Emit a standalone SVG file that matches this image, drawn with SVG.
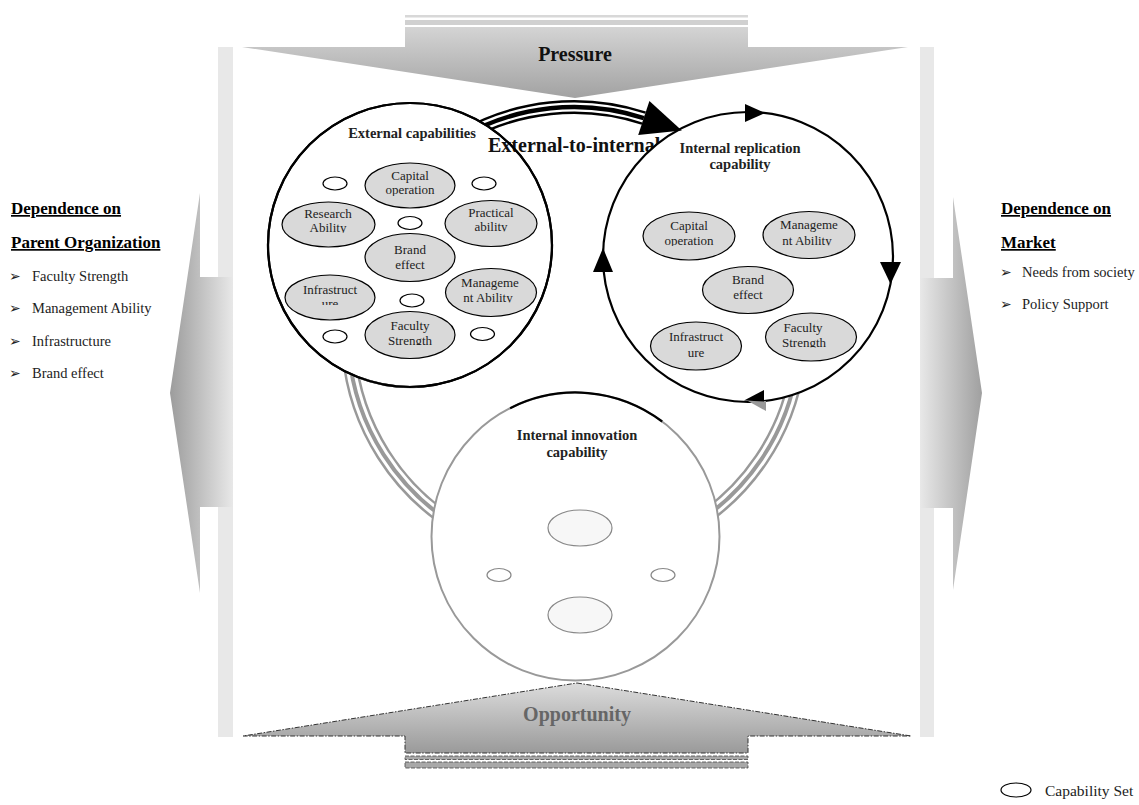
<svg xmlns="http://www.w3.org/2000/svg" width="1139" height="805" viewBox="0 0 1139 805">
<style>
text{font-family:"Liberation Serif","Times New Roman",serif}
.b{font-weight:bold}
.cap{fill:#d9d9d9;stroke:#000;stroke-width:1.2}
.sm{fill:#fff;stroke:#000;stroke-width:1.2}
.lbl{font-size:13px;text-anchor:middle;fill:#222}
.ttl{font-size:14.5px;font-weight:bold;text-anchor:middle;fill:#222}
.head{font-size:17px;font-weight:bold;text-decoration:underline;fill:#000}
.item{font-size:14.5px;fill:#222}
.bul{font-family:"DejaVu Sans",sans-serif;font-size:14px}
.bandg{fill:none;stroke:#999}
.bandk{fill:none;stroke:#000}
.wht{fill:none;stroke:#fff}
.big{fill:#fff;stroke:#000;stroke-width:2.2}
</style>
<defs>
<linearGradient id="gL" gradientUnits="userSpaceOnUse" x1="170" y1="0" x2="233" y2="0"><stop offset="0" stop-color="#9c9c9c"/><stop offset="1" stop-color="#e8e8e8"/></linearGradient>
<linearGradient id="gR" gradientUnits="userSpaceOnUse" x1="920" y1="0" x2="982" y2="0"><stop offset="0" stop-color="#e8e8e8"/><stop offset="1" stop-color="#a0a0a0"/></linearGradient>
<linearGradient id="gP" gradientUnits="userSpaceOnUse" x1="0" y1="27" x2="0" y2="98"><stop offset="0" stop-color="#d4d4d4"/><stop offset="1" stop-color="#a2a2a2"/></linearGradient>
<linearGradient id="gO" gradientUnits="userSpaceOnUse" x1="0" y1="683" x2="0" y2="753"><stop offset="0" stop-color="#dcdcdc"/><stop offset="1" stop-color="#9a9a9a"/></linearGradient>
<clipPath id="c1"><rect x="350" y="160" width="120" height="36"/></clipPath>
<clipPath id="c2"><rect x="270" y="200" width="120" height="33"/></clipPath>
<clipPath id="c3"><rect x="430" y="200" width="120" height="31.5"/></clipPath>
<clipPath id="c5"><rect x="270" y="280" width="120" height="25"/></clipPath>
<clipPath id="c6"><rect x="430" y="270" width="120" height="32.5"/></clipPath>
<clipPath id="c7"><rect x="350" y="315" width="120" height="30"/></clipPath>
<clipPath id="r1"><rect x="630" y="210" width="120" height="36"/></clipPath>
<clipPath id="r2"><rect x="750" y="210" width="120" height="35.5"/></clipPath>
<clipPath id="r5"><rect x="750" y="315" width="120" height="32.5"/></clipPath>
</defs>

<g id="frame">
<rect x="218" y="47" width="15" height="690" fill="#e8e8e8"/>
<rect x="920" y="47" width="14" height="690" fill="#e8e8e8"/>
</g>

<g id="dependence-parent">
<polygon points="233,277 200,277 200,193 170,393 200,593 200,507 233,507" fill="url(#gL)"/>
<text class="head" x="11" y="214">Dependence on</text>
<text class="head" x="11" y="248">Parent Organization</text>
<text class="item" x="9" y="281"><tspan class="bul">➢</tspan><tspan x="32">Faculty Strength</tspan></text>
<text class="item" x="9" y="313"><tspan class="bul">➢</tspan><tspan x="32">Management Ability</tspan></text>
<text class="item" x="9" y="346"><tspan class="bul">➢</tspan><tspan x="32">Infrastructure</tspan></text>
<text class="item" x="9" y="378"><tspan class="bul">➢</tspan><tspan x="32">Brand effect</tspan></text>
</g>

<g id="dependence-market">
<polygon points="920,278 953,278 953,197 982,393 953,590 953,508 920,508" fill="url(#gR)"/>
<text class="head" x="1001" y="214">Dependence on</text>
<text class="head" x="1001" y="248">Market</text>
<text class="item" x="1000" y="277"><tspan class="bul">➢</tspan><tspan x="1022">Needs from society</tspan></text>
<text class="item" x="1000" y="309"><tspan class="bul">➢</tspan><tspan x="1022">Policy Support</tspan></text>
</g>

<g id="pressure">
<rect x="405" y="15" width="343" height="2.5" fill="#d8d8d8"/>
<rect x="405" y="20" width="343" height="5" fill="#d0d0d0"/>
<polygon points="405,27 748,27 748,47 908,47 575,98 242,47 405,47" fill="url(#gP)"/>
<text class="b" x="575" y="61" font-size="20" text-anchor="middle" fill="#111">Pressure</text>
</g>

<g id="opportunity">
<polygon points="577,683 911,736 748,736 748,753 405,753 405,736 243,736" fill="url(#gO)" stroke="#333" stroke-width="1" stroke-dasharray="5 1.5 1.5 1.5"/>
<rect x="405" y="756" width="343" height="3.5" fill="#a8a8a8" stroke="#444" stroke-width="0.8" stroke-dasharray="4 1.5"/>
<rect x="405" y="762" width="343" height="6" fill="#a8a8a8" stroke="#444" stroke-width="0.8" stroke-dasharray="4 1.5"/>
<text class="b" x="577" y="721" font-size="20" text-anchor="middle" fill="#666">Opportunity</text>
</g>

<g id="connectors">
<path class="bandg" stroke-width="15" d="M348.9 352.7 A226 226 0 0 0 461 528.7"/>
<path class="wht" stroke-width="10" d="M348.9 352.7 A226 226 0 0 0 461 528.7"/>
<path class="bandg" stroke-width="4" d="M348.9 352.7 A226 226 0 0 0 461 528.7"/>
<path class="bandg" stroke-width="15" d="M797.8 364.5 A226 226 0 0 1 687 528.7"/>
<path class="wht" stroke-width="10" d="M797.8 364.5 A226 226 0 0 1 687 528.7"/>
<path class="bandg" stroke-width="4" d="M797.8 364.5 A226 226 0 0 1 687 528.7"/>
<path class="bandk" stroke-width="14" d="M461 137.3 A226 226 0 0 1 643.8 118.1"/>
<path class="wht" stroke-width="9" d="M461 137.3 A226 226 0 0 1 643.8 118.1"/>
<path class="bandk" stroke-width="4.5" d="M461 137.3 A226 226 0 0 1 643.8 118.1"/>
</g>

<g id="external-capabilities">
<circle class="big" cx="410" cy="245" r="142"/>
<path d="M417.4 386.8 A142 142 0 0 1 361.4 378.4" fill="none" stroke="#999" stroke-width="2.6"/>
<text class="ttl" x="412" y="138">External capabilities</text>
<ellipse class="sm" cx="335" cy="183.5" rx="12" ry="6.5"/>
<ellipse class="sm" cx="484" cy="183.5" rx="12" ry="6.5"/>
<ellipse class="sm" cx="410" cy="223" rx="12" ry="6.5"/>
<ellipse class="sm" cx="412" cy="300.5" rx="12" ry="6.5"/>
<ellipse class="sm" cx="335" cy="336.5" rx="12" ry="6.5"/>
<ellipse class="sm" cx="482.5" cy="334" rx="12" ry="6.5"/>
<g id="ext-capital">
<ellipse class="cap" cx="410" cy="185.5" rx="45" ry="22.5"/>
<text class="lbl" clip-path="url(#c1)"><tspan x="410" y="180">Capital</tspan><tspan x="410" y="194">operation</tspan></text>
</g>
<g id="ext-research">
<ellipse class="cap" cx="328.5" cy="224.5" rx="46.5" ry="22.5"/>
<text class="lbl" clip-path="url(#c2)"><tspan x="328" y="218">Research</tspan><tspan x="328" y="232">Ability</tspan></text>
</g>
<g id="ext-practical">
<ellipse class="cap" cx="491" cy="223.5" rx="46" ry="23"/>
<text class="lbl" clip-path="url(#c3)"><tspan x="491" y="216.5">Practical</tspan><tspan x="491" y="230.5">ability</tspan></text>
</g>
<g id="ext-brand">
<ellipse class="cap" cx="410" cy="257.5" rx="45" ry="24"/>
<text class="lbl"><tspan x="410" y="254">Brand</tspan><tspan x="410" y="268.5">effect</tspan></text>
</g>
<g id="ext-infra">
<ellipse class="cap" cx="330" cy="297.5" rx="45" ry="22.5"/>
<text class="lbl" clip-path="url(#c5)"><tspan x="330" y="294">Infrastruct</tspan><tspan x="330" y="308">ure</tspan></text>
</g>
<g id="ext-management">
<ellipse class="cap" cx="491" cy="292.5" rx="45.5" ry="24"/>
<text class="lbl" clip-path="url(#c6)"><tspan x="490" y="287">Manageme</tspan><tspan x="488" y="302">nt Ability</tspan></text>
</g>
<g id="ext-faculty">
<ellipse class="cap" cx="410" cy="335" rx="45" ry="23.5"/>
<text class="lbl" clip-path="url(#c7)"><tspan x="410" y="330">Faculty</tspan><tspan x="410" y="345">Strength</tspan></text>
</g>
</g>

<g id="ext-to-int-label">
<text class="b" x="488" y="152" font-size="20" fill="#111">External-to-internal</text>
<circle cx="410" cy="245" r="142" fill="none" stroke="#000" stroke-width="2.2"/>
</g>

<g id="internal-replication">
<circle class="big" cx="748" cy="257" r="145"/>
<polygon points="745,104 745,122 765,113" fill="#000"/>
<polygon points="880,262 901,262 890.5,284" fill="#000"/>
<polygon points="593,272 613,272 603,248" fill="#000"/>
<polygon points="748,401 766,401 766,411" fill="#999"/>
<polygon points="744,400.5 764,390 764,401.5" fill="#000"/>
<text class="ttl"><tspan x="740" y="153">Internal replication</tspan><tspan x="740" y="169">capability</tspan></text>
<g id="rep-capital">
<ellipse class="cap" cx="689" cy="236" rx="46" ry="24"/>
<text class="lbl" clip-path="url(#r1)"><tspan x="689" y="230">Capital</tspan><tspan x="689" y="245">operation</tspan></text>
</g>
<g id="rep-management">
<ellipse class="cap" cx="809" cy="235" rx="46" ry="23.5"/>
<text class="lbl" clip-path="url(#r2)"><tspan x="809" y="229">Manageme</tspan><tspan x="807" y="245">nt Ability</tspan></text>
</g>
<g id="rep-brand">
<ellipse class="cap" cx="748" cy="290" rx="45.5" ry="23.5"/>
<text class="lbl"><tspan x="748" y="284">Brand</tspan><tspan x="748" y="299">effect</tspan></text>
</g>
<g id="rep-infra">
<ellipse class="cap" cx="696" cy="346" rx="45.5" ry="24"/>
<text class="lbl"><tspan x="696" y="341">Infrastruct</tspan><tspan x="696" y="357">ure</tspan></text>
</g>
<g id="rep-faculty">
<ellipse class="cap" cx="811" cy="337" rx="45.5" ry="24"/>
<text class="lbl" clip-path="url(#r5)"><tspan x="803" y="332">Faculty</tspan><tspan x="804" y="347">Strength</tspan></text>
</g>
</g>

<g id="top-arrowhead">
<polygon points="649.4,100.9 638.2,135.1 681.8,130.4" fill="#000"/>
</g>

<g id="internal-innovation">
<circle cx="575.5" cy="536.5" r="144" fill="#fff" stroke="#999" stroke-width="2"/>
<path d="M510.1 408.2 A144 144 0 0 1 662.2 421.5" fill="none" stroke="#000" stroke-width="2.2"/>
<text class="ttl"><tspan x="577" y="440">Internal innovation</tspan><tspan x="577" y="457">capability</tspan></text>
<ellipse cx="580" cy="528" rx="32" ry="18" fill="#f7f7f7" stroke="#888" stroke-width="1.2"/>
<ellipse cx="580" cy="615" rx="32" ry="18" fill="#f7f7f7" stroke="#888" stroke-width="1.2"/>
<ellipse cx="499" cy="575" rx="12" ry="6.5" fill="#fff" stroke="#888" stroke-width="1.2"/>
<ellipse cx="663" cy="575" rx="12" ry="6.5" fill="#fff" stroke="#888" stroke-width="1.2"/>
</g>

<g id="legend">
<ellipse cx="1016" cy="790" rx="15" ry="7" fill="#fff" stroke="#000" stroke-width="1.2"/>
<text x="1045" y="796" font-size="15.5" fill="#222">Capability Set</text>
</g>
</svg>
